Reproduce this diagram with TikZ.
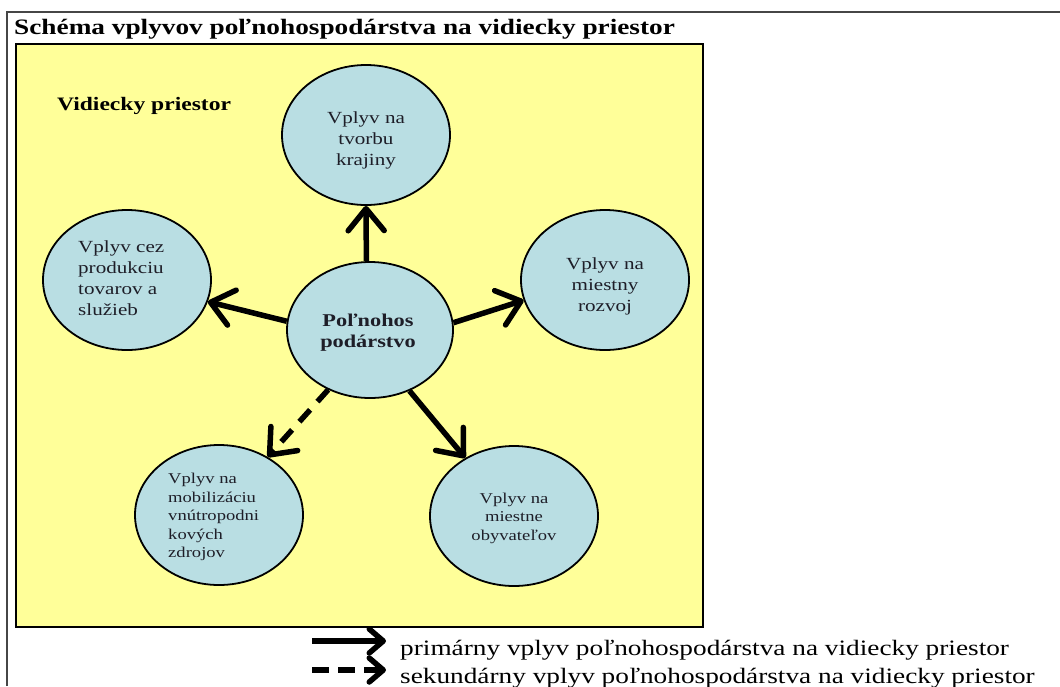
\documentclass[tikz,border=0pt]{standalone}
\usepackage{fontspec}
\setmainfont{Liberation Serif}[FakeStretch=1.24]
\usetikzlibrary{shapes.geometric,arrows.meta}
\definecolor{boxyellow}{RGB}{255,255,153}
\definecolor{ellblue}{RGB}{185,222,227}
\definecolor{txtdark}{RGB}{30,30,40}
\definecolor{framegray}{RGB}{70,70,70}
\tikzset{
  ell/.style={ellipse, draw=black, line width=1.8pt, fill=ellblue, minimum width=168pt, minimum height=140pt, inner sep=0pt},
  etext/.style={inner sep=0pt, text=txtdark, font=\fontsize{17}{21}\selectfont},
  stext/.style={inner sep=0pt, text=txtdark, font=\fontsize{15}{18.5}\selectfont},
  infl/.style={line width=5.5pt, -{Straight Barb[round, length=22pt, width=36pt]}},
  sinfl/.style={infl, dash pattern=on 16pt off 11pt},
  legarr/.style={line width=5.5pt, -{Straight Barb[round, length=14pt, width=24pt]}},
  legdash/.style={legarr, dash pattern=on 17pt off 9pt},
  legtext/.style={anchor=base west, inner sep=0pt, font=\fontsize{22}{26}\selectfont},
}
\begin{document}
\begin{tikzpicture}[x=1pt,y=-1pt]
\useasboundingbox (0,0) rectangle (1060,686);
\fill[white] (0,0) rectangle (1060,686);
\draw[line width=1.3pt, framegray] (7,686) -- (7,12) -- (1060,12);
\node[anchor=base west, inner sep=0pt, font=\bfseries\fontsize{22}{26}\selectfont] (title) at (14,34) {Schéma vplyvov poľnohospodárstva na vidiecky priestor};
\draw[line width=2.5pt, fill=boxyellow] (16,44) rectangle (703,627);
\node[anchor=base west, inner sep=0pt, font=\bfseries\fontsize{19}{22}\selectfont] (vp) at (57,110) {Vidiecky priestor};

% ellipses
\node[ell] (T) at (366,135) {};
\node[ell] (L) at (127,280) {};
\node[ell] (R) at (605,280) {};
\node[ell, minimum width=166pt, minimum height=136pt] (C) at (370,330) {};
\node[ell] (BL) at (219,515) {};
\node[ell] (BR) at (514,516) {};

% texts
\node[etext, align=center] (tT) at (366,140) {Vplyv na\\tvorbu\\krajiny};
\node[etext, align=left, anchor=west] (tL) at (78,278) {Vplyv cez\\produkciu\\tovarov a\\služieb};
\node[etext, align=center] (tR) at (605,286) {Vplyv na\\miestny\\rozvoj};
\node[inner sep=0pt, align=center, text=txtdark, font=\bfseries\fontsize{18}{21}\selectfont] (tC) at (368,333) {Poľnohos\\podárstvo};
\node[stext, align=left, anchor=west] (tBL) at (168,517) {Vplyv na\\mobilizáciu\\vnútropodni\\kových\\zdrojov};
\node[stext, align=center] (tBR) at (514,518) {Vplyv na\\miestne\\obyvateľov};

% connectors
\draw[infl] (C.93) -- (T.-90);
\draw[infl] (C.174) -- (L.-15);
\draw[infl] (C.5) -- (R.194);
\draw[sinfl] (C.235) -- (BL.50);
\draw[infl] (C.-57) -- (BR.130);

% legend
\coordinate (la1) at (312,641);
\coordinate (la2) at (386,641);
\coordinate (lb1) at (312,670);
\coordinate (lb2) at (386,670);
\draw[legarr] (la1) -- (la2);
\draw[legdash] (lb1) -- (lb2);
\node[legtext] (lt1) at (400,655) {primárny vplyv poľnohospodárstva na vidiecky priestor};
\node[legtext] (lt2) at (400,683) {sekundárny vplyv poľnohospodárstva na vidiecky priestor};
\end{tikzpicture}
\end{document}
